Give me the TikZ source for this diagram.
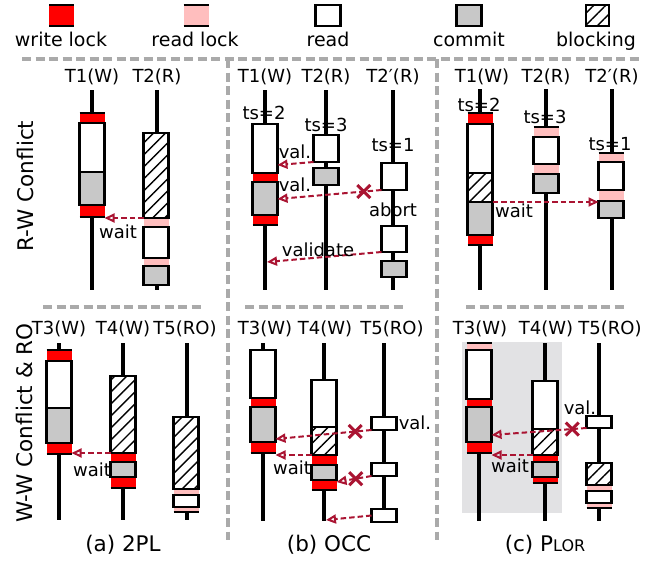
\documentclass[tikz,border=0pt]{standalone}
\usepackage{fontspec}
\setmainfont{DejaVu Sans}
\usetikzlibrary{arrows.meta,patterns.meta,shapes.misc}
\definecolor{lockred}{RGB}{255,0,0}
\definecolor{lockpink}{RGB}{255,190,190}
\definecolor{cmtgray}{RGB}{200,200,200}
\definecolor{arrowred}{RGB}{170,20,50}
\definecolor{sepgray}{RGB}{170,170,170}
\definecolor{bggray}{RGB}{226,226,228}
% box of a transaction: name, style, x, top, bottom
\newcommand{\seg}[5]{\node[seg,#2,minimum height={#5-#4}] (#1) at (#3,{(#4+#5)/2}) {};}
% lock band: name, style, x, top, bottom
\newcommand{\lk}[5]{\node[seg,#2,minimum height={#5-#4}] (#1) at (#3,{(#4+#5)/2}) {};
  \draw[edge] (#1.north west) -- (#1.north east) (#1.south west) -- (#1.south east);}

\begin{document}
\begin{tikzpicture}[x=1pt, y=-1pt,
    seg/.style={rectangle, minimum width=25, inner sep=0pt, outer sep=0pt},
    rd/.style={draw, line width=2.3pt, fill=white},
    cmt/.style={draw, line width=2.3pt, fill=cmtgray},
    blk/.style={draw, line width=2.3pt, preaction={fill=white}, pattern={Lines[angle=45,distance=8.5pt,line width=1.4pt]}},
    wl/.style={fill=lockred},
    rl/.style={fill=lockpink},
    edge/.style={line width=2.3pt},
    life/.style={line width=4.5pt},
    sep/.style={draw=sepgray, line width=3.5pt, dash pattern=on 9pt off 4.5pt},
    dep/.style={draw=arrowred, line width=2pt, dash pattern=on 5.5pt off 3pt, -{Triangle[open,length=10pt,width=9pt]}},
    xmark/.style={cross out, draw=arrowred, line width=3pt, minimum size=10pt, inner sep=0pt, solid},
    lbl/.style={font=\fontsize{18}{20}\selectfont, inner sep=0pt},
    tname/.style={lbl, anchor=base},
    lgnd/.style={font=\fontsize{19}{21}\selectfont, inner sep=0pt, anchor=base},
    capt/.style={font=\fontsize{21.5}{24}\selectfont, inner sep=0pt},
    rowlbl/.style={font=\fontsize{21.5}{24}\selectfont, inner sep=0pt, rotate=90}
]
    \useasboundingbox (0,0) rectangle (654,563);

    % legend
    \lk{lgw}{wl}{61.5}{5}{26}
    \lk{lgr}{rl}{196}{5}{26}
    \seg{lgd}{rd}{328}{5}{26}
    \seg{lgc}{cmt}{469}{5}{26}
    \seg{lgb}{blk,minimum width=23}{597.5}{5}{26}
    \node[lgnd] (tlgw) at (61,46) {write lock};
    \node[lgnd] (tlgr) at (195,46) {read lock};
    \node[lgnd] (tlgd) at (328,46) {read};
    \node[lgnd] (tlgc) at (469,46) {commit};
    \node[lgnd] (tlgb) at (596,46) {blocking};

    % frame
    \draw[sep] (22,59) -- (640,59);
    \draw[sep] (228,59) -- (228,540);
    \draw[sep] (437,59) -- (437,540);
    \draw[sep] (43,307) -- (203,307);
    \draw[sep] (245,307) -- (405,307);
    \draw[sep] (466,307) -- (628,307);
    \fill[bggray] (462,342) rectangle (562,513);

    \node[rowlbl] (rrw) at (25,186) {R-W Conflict};
    \node[rowlbl] (rww) at (24,423) {W-W Conflict \& RO};

    % (a) 2PL, R-W
    \draw[life] (92,90) -- (92,290);
    \draw[life] (157,90) -- (157,290);
    \seg{a1r}{rd}{92}{123}{172}
    \seg{a1c}{cmt}{92}{172}{205}
    \lk{a1u}{wl}{92}{113}{123}
    \lk{a1d}{wl}{92}{205}{217}
    \seg{a2h}{blk}{156}{133}{218}
    \seg{a2r}{rd}{156}{227}{258}
    \seg{a2c}{cmt}{156}{266}{285}
    \lk{a2u}{rl}{156}{218}{227}
    \lk{a2d}{rl}{156}{258}{266}
    \node[tname] (ta1) at (92,82) {T1(W)};
    \node[tname] (ta2) at (157,82) {T2(R)};
    \draw[dep] (a2h.south west) -- (a2h.south west -| a1d.east);
    \node[lbl] (wa1) at (118,232) {wait};

    % (b) OCC, R-W
    \draw[life] (265,90) -- (265,290);
    \draw[life] (326,90) -- (326,290);
    \draw[life] (393,90) -- (393,290);
    \seg{b1r}{rd}{265}{124}{173}
    \seg{b1c}{cmt}{265}{182}{215}
    \lk{b1u}{wl}{265}{173}{182}
    \lk{b1d}{wl}{265}{215}{225}
    \seg{b2r}{rd}{326}{135}{162}
    \seg{b2c}{cmt}{326}{168}{185}
    \seg{b3r}{rd}{394}{163}{190}
    \seg{b3s}{rd}{394}{226}{252}
    \seg{b3c}{cmt}{394}{261}{277}
    \coordinate (b1ln) at (267,262);
    \node[tname] (tb1) at (265,82) {T1(W)};
    \node[tname] (tb2) at (326,82) {T2(R)};
    \node[tname] (tb3) at (393,82) {T2′(R)};
    \node[lbl] (sb1) at (264,113) {ts=2};
    \node[lbl] (sb2) at (326,125) {ts=3};
    \node[lbl] (sb3) at (393,145) {ts=1};
    \node[lbl] (ab3) at (393,210) {abort};
    \draw[dep] (b2r.south west) -- ([yshift=-3pt]b2r.south west -| b1r.east);
    \draw[dep] (b3r.south west) -- node[xmark, pos=0.17] (xb1) {} ([yshift=-9pt]b3r.south west -| b1c.east);
    \draw[dep] (b3s.south west) -- (b1ln);
    \node[lbl] (vb1) at (295,152) {val.};
    \node[lbl] (vb2) at (295,185) {val.};
    \node[lbl] (vb3) at (318,250) {validate};

    % (c) PLOR, R-W
    \draw[life] (480,89) -- (480,290);
    \draw[life] (546,89) -- (546,290);
    \draw[life] (612,89) -- (612,290);
    \seg{c1r}{rd}{480}{124}{173}
    \seg{c1h}{blk}{480}{173}{202}
    \seg{c1c}{cmt}{480}{202}{235}
    \lk{c1u}{wl}{480}{113}{124}
    \lk{c1d}{wl}{480}{235}{245}
    \seg{c2r}{rd}{546}{137}{164}
    \seg{c2c}{cmt}{546}{174}{193}
    \lk{c2u}{rl}{546}{127}{137}
    \lk{c2d}{rl}{546}{164}{174}
    \seg{c3r}{rd}{611}{162}{190}
    \seg{c3c}{cmt}{611}{201}{218}
    \lk{c3u}{rl}{611}{153}{162}
    \lk{c3d}{rl}{611}{190}{201}
    \node[tname] (tc1) at (482,82) {T1(W)};
    \node[tname] (tc2) at (546,82) {T2(R)};
    \node[tname] (tc3) at (612,82) {T2′(R)};
    \node[lbl] (sc1) at (479,105) {ts=2};
    \node[lbl] (sc2) at (545,117) {ts=3};
    \node[lbl] (sc3) at (610,144) {ts=1};
    \draw[dep] (c1h.south east) -- (c1h.south east -| c3c.west);
    \node[lbl] (wc1) at (514,211) {wait};

    % (a) 2PL, W-W
    \draw[life] (59,343) -- (59,520);
    \draw[life] (123,343) -- (123,520);
    \draw[life] (187,343) -- (187,520);
    \seg{d1r}{rd}{59}{361}{408}
    \seg{d1c}{cmt}{59}{408}{443}
    \lk{d1u}{wl}{59}{350}{361}
    \lk{d1d}{wl}{59}{443}{454}
    \seg{d2h}{blk}{123}{376}{453}
    \seg{d2c}{cmt}{123}{462}{477}
    \lk{d2u}{wl}{123}{453}{462}
    \lk{d2d}{wl}{123}{477}{488}
    \seg{d3h}{blk}{186}{417}{489}
    \seg{d3r}{rd}{186}{495}{507}
    \lk{d3u}{rl}{186}{489}{495}
    \lk{d3d}{rl}{186}{507}{512}
    \node[tname] (td1) at (59,334) {T3(W)};
    \node[tname] (td2) at (123,334) {T4(W)};
    \node[tname] (td3) at (185,334) {T5(RO)};
    \draw[dep] (d2h.south west) -- (d2h.south west -| d1d.east);
    \node[lbl] (wd1) at (92,470) {wait};

    % (b) OCC, W-W
    \draw[life] (263,343) -- (263,521);
    \draw[life] (324,343) -- (324,521);
    \draw[life] (384,343) -- (384,521);
    \seg{e1r}{rd}{263}{350}{398}
    \seg{e1c}{cmt}{263}{407}{442}
    \lk{e1u}{wl}{263}{398}{407}
    \lk{e1d}{wl}{263}{442}{453}
    \seg{e2r}{rd}{324}{380}{427}
    \seg{e2h}{blk}{324}{427}{455}
    \seg{e2c}{cmt}{324}{465}{480}
    \lk{e2u}{wl}{324}{455}{465}
    \lk{e2d}{wl}{324}{480}{490}
    \seg{e3a}{rd}{384}{417}{430}
    \seg{e3b}{rd}{384}{463}{476}
    \seg{e3c}{rd}{384}{509}{522}
    \coordinate (e2ln) at (326,520);
    \node[tname] (te1) at (265,334) {T3(W)};
    \node[tname] (te2) at (325,334) {T4(W)};
    \node[tname] (te3) at (392,334) {T5(RO)};
    \node[lbl] (ve3) at (415,423) {val.};
    \draw[dep] (e3a.south west) -- node[xmark, pos=0.17] (xe1) {} ([yshift=-9pt]e3a.south west -| e1c.east);
    \draw[dep] (e2h.south west) -- (e2h.south west -| e1d.east);
    \draw[dep] (e3b.south west) -- node[xmark, pos=0.45] (xe2) {} ([yshift=-6pt]e3b.south west -| e2d.east);
    \draw[dep] (e3c.west) -- (e2ln);
    \node[lbl] (we1) at (292,468) {wait};

    % (c) PLOR, W-W
    \draw[life] (479,343) -- (479,521);
    \draw[life] (545,343) -- (545,521);
    \draw[life] (599,343) -- (599,521);
    \seg{f1r}{rd}{479}{350}{399}
    \seg{f1c}{cmt}{479}{407}{442}
    \lk{f1u}{rl}{479}{343}{350}
    \lk{f1m}{wl}{479}{399}{407}
    \lk{f1d}{wl}{479}{442}{453}
    \seg{f2r}{rd}{545}{381}{429}
    \seg{f2h}{blk}{545}{429}{455}
    \seg{f2c}{cmt}{545}{462}{477}
    \lk{f2u}{wl}{545}{455}{462}
    \lk{f2d}{wl}{545}{477}{483}
    \seg{f3a}{rd}{599}{416}{428}
    \seg{f3h}{blk}{599}{463}{485}
    \seg{f3r}{rd}{599}{491}{503}
    \lk{f3u}{rl}{599}{485}{491}
    \lk{f3d}{rl}{599}{503}{508}
    \node[tname] (tf1) at (480,334) {T3(W)};
    \node[tname] (tf2) at (546,334) {T4(W)};
    \node[tname] (tf3) at (610,334) {T5(RO)};
    \node[lbl] (vf3) at (580,408) {val.};
    \draw[dep] (f3a.south west) -- node[xmark, pos=0.15] (xf1) {} ([yshift=-7pt]f3a.south west -| f1c.east);
    \draw[dep] (f2h.south west) -- (f2h.south west -| f1d.east);
    \node[lbl] (wf1) at (510,466) {wait};

    % captions
    \node[capt] (capa) at (123,545) {(a) 2PL};
    \node[capt] (capb) at (329,545) {(b) OCC};
    \node[capt] (capc) at (545,545) {(c) P{\fontsize{16}{18}\selectfont LOR}};
\end{tikzpicture}
\end{document}
